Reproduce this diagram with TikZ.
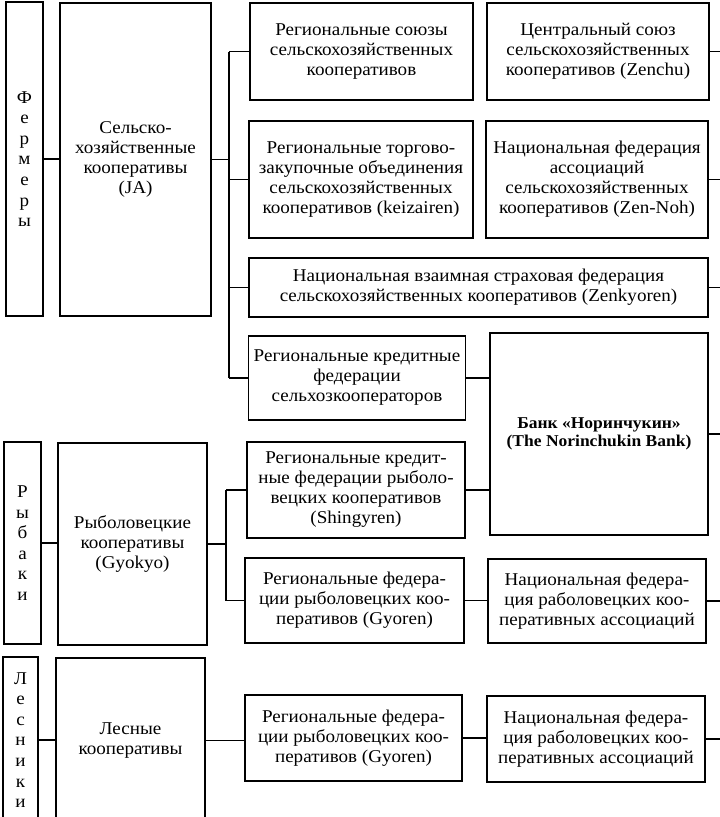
\documentclass[tikz,border=0pt]{standalone}
\usepackage{fontspec}
\setmainfont[FakeStretch=1.06]{Liberation Serif}
\begin{document}
\begin{tikzpicture}[x=1pt,y=-1pt,
  box/.style={draw,line width=1.7pt,inner sep=1pt,align=center,
    font=\fontsize{18}{20}\selectfont},
  vbox/.style={draw,line width=1.7pt,inner sep=0pt,align=center,
    font=\fontsize{18}{20.6}\selectfont},
  conn/.style={line width=1.5pt}]
\useasboundingbox (0,0) rectangle (720,817);
% left column
\node[vbox,minimum width=37pt,minimum height=314pt] (farm) at (24.5,159) {Ф\\е\\р\\м\\е\\р\\ы};
\node[box,minimum width=151pt,minimum height=313pt] (ja) at (135.5,159.5) {Сельско-\\хозяйственные\\кооперативы\\(JA)};
\node[vbox,minimum width=37pt,minimum height=202pt] (fish) at (22.5,543) {Р\\ы\\б\\а\\к\\и};
\node[box,minimum width=149pt,minimum height=202pt] (gyokyo) at (132.5,544) {Рыболовецкие\\кооперативы\\(Gyokyo)};
\node[vbox,minimum width=35pt,minimum height=166pt] (forester) at (20.5,740) {Л\\е\\с\\н\\и\\к\\и};
\node[box,minimum width=149pt,minimum height=165pt] (forest) at (130.5,740.5) {Лесные\\кооперативы};
% middle column
\node[box,minimum width=223pt,minimum height=97pt] (b1) at (361.5,51.5) {Региональные союзы\\сельскохозяйственных\\кооперативов};
\node[box,minimum width=224pt,minimum height=117pt] (b2) at (361,179.5) {Региональные торгово-\\закупочные объединения\\сельскохозяйственных\\кооперативов (keizairen)};
\node[box,minimum width=459pt,minimum height=59pt] (zenk) at (478.5,287.5) {Национальная взаимная страховая федерация\\сельскохозяйственных кооперативов (Zenkyoren)};
\node[box,minimum width=217pt,minimum height=84pt] (credit) at (357,378) {Региональные кредитные\\федерации\\сельхозкооператоров};
\node[box,minimum width=218pt,minimum height=96pt] (shing) at (356,490) {Региональные кредит-\\ные федерации рыболо-\\вецких кооперативов\\(Shingyren)};
\node[box,minimum width=219pt,minimum height=85pt] (gyoren) at (354.5,600.5) {Региональные федера-\\ции рыболовецких коо-\\перативов (Gyoren)};
\node[box,minimum width=217pt,minimum height=86pt] (fgyoren) at (353.5,738) {Региональные федера-\\ции рыболовецких коо-\\перативов (Gyoren)};
% right column
\node[box,minimum width=222pt,minimum height=97pt] (zenchu) at (598,51.5) {Центральный союз\\сельскохозяйственных\\кооперативов (Zenchu)};
\node[box,minimum width=222pt,minimum height=117pt] (zennoh) at (597,179.5) {Национальная федерация\\ассоциаций\\сельскохозяйственных\\кооперативов (Zen-Noh)};
\node[box,minimum width=218pt,minimum height=202pt,font=\fontsize{16.5}{18}\selectfont\bfseries] (bank) at (599,434) {Банк «Норинчукин»\\(The Norinchukin Bank)};
\node[box,minimum width=218pt,minimum height=84pt] (fnat) at (597,601) {Национальная федера-\\ция раболовецких коо-\\перативных ассоциаций};
\node[box,minimum width=218pt,minimum height=86pt] (fnat2) at (596,739) {Национальная федера-\\ция раболовецких коо-\\перативных ассоциаций};
% coordinates
\coordinate (busA) at (229,0);
\coordinate (busB) at (226,0);
\coordinate (redge) at (720,0);
% farmers
\draw[conn] (farm.east) -- (farm.east -| ja.west);
\draw[conn] (ja.east) -- (ja.east -| busA);
\draw[conn] (b1.west -| busA) -- (credit.west -| busA);
\draw[conn] (b1.west -| busA) -- (b1.west);
\draw[conn] (b2.west -| busA) -- (b2.west);
\draw[conn] (zenk.west -| busA) -- (zenk.west);
\draw[conn] (credit.west -| busA) -- (credit.west);
\draw[conn] (credit.east) -- (credit.east -| bank.west);
% fishermen
\draw[conn] (fish.east) -- (fish.east -| gyokyo.west);
\draw[conn] (gyokyo.east) -- (gyokyo.east -| busB);
\draw[conn] (shing.west -| busB) -- (gyoren.west -| busB);
\draw[conn] (shing.west -| busB) -- (shing.west);
\draw[conn] (gyoren.west -| busB) -- (gyoren.west);
\draw[conn] (shing.east) -- (shing.east -| bank.west);
\draw[conn] (gyoren.east) -- (gyoren.east -| fnat.west);
% foresters
\draw[conn] (forester.east) -- (forester.east -| forest.west);
\draw[conn] (forest.east) -- (forest.east -| fgyoren.west);
\draw[conn] (fgyoren.east) -- (fgyoren.east -| fnat2.west);
% right stubs
\draw[conn] (zenchu.east) -- (zenchu.east -| redge);
\draw[conn] (zennoh.east) -- (zennoh.east -| redge);
\draw[conn] (zenk.east) -- (zenk.east -| redge);
\draw[conn] (bank.east) -- (bank.east -| redge);
\draw[conn] (fnat.east) -- (fnat.east -| redge);
\draw[conn] (fnat2.east) -- (fnat2.east -| redge);
\end{tikzpicture}
\end{document}
